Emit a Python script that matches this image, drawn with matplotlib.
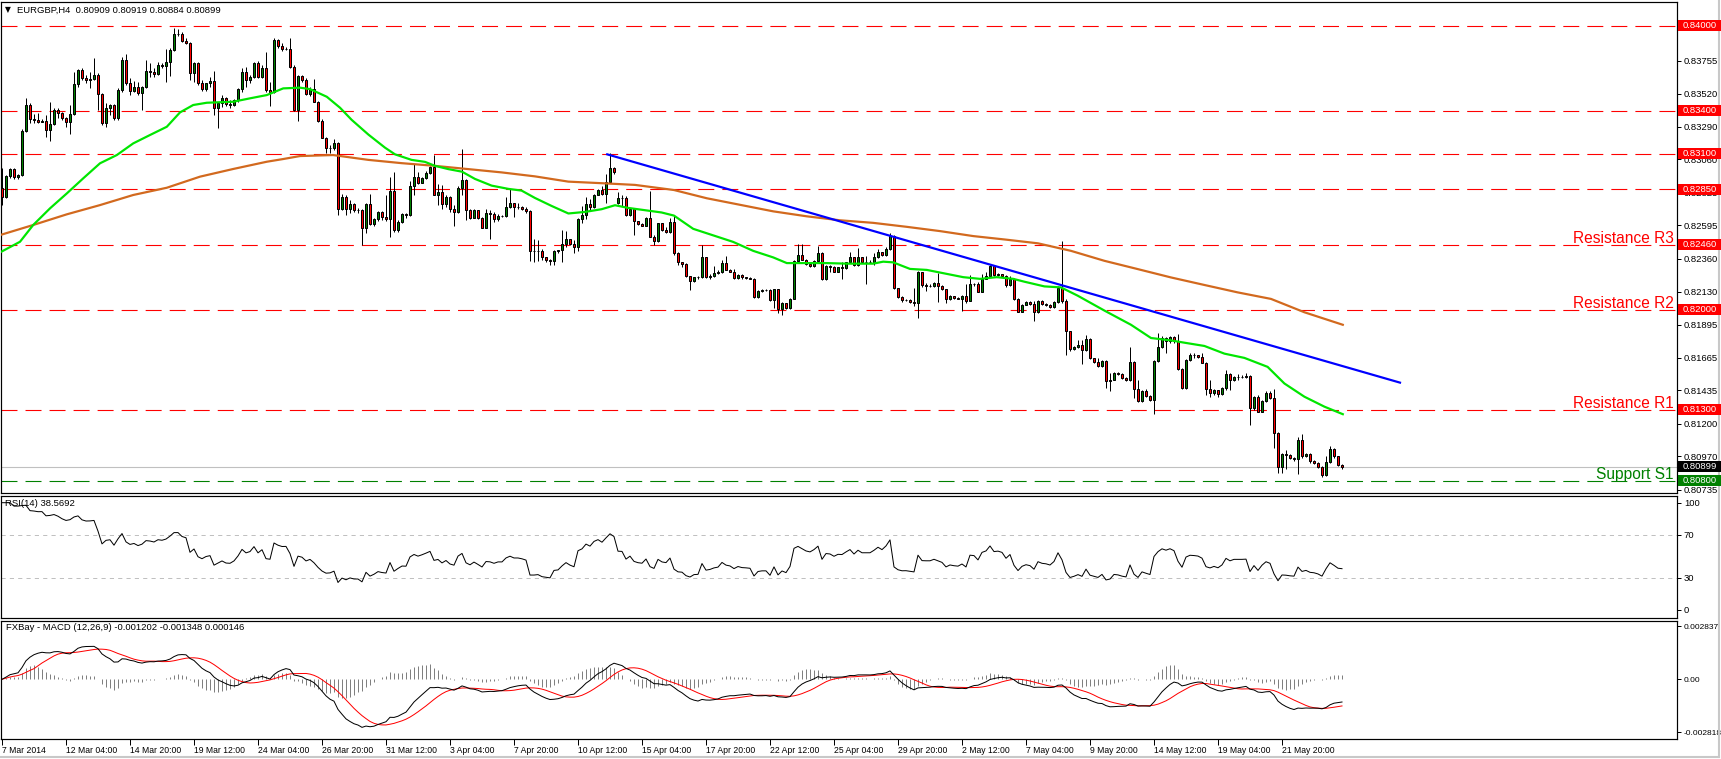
import numpy as np
import pandas as pd
import matplotlib
matplotlib.use("Agg")
import matplotlib.pyplot as plt
import matplotlib.transforms as mtransforms
from matplotlib.lines import Line2D
from matplotlib.patches import Rectangle

plt.rcParams['font.family'] = ['Liberation Sans', 'DejaVu Sans']
plt.rcParams['lines.scale_dashes'] = False

# EURGBP H4, prices in pips above 0.80000 (e.g. 312.0 -> 0.83120)
first_open = 285.6
gap_opens = {154: 275.5}
close_pips = [
    279.7, 294.2, 299.2, 293.3, 294.9, 325.9, 344.2, 334.3, 333.6, 332.5,
    333.0, 326.6, 330.8, 340.7, 338.3, 334.8, 332.5, 337.6, 358.7, 368.8,
    363.4, 361.8, 362.5, 365.3, 351.7, 331.3, 342.3, 344.2, 334.8, 354.7,
    375.8, 359.4, 354.0, 357.1, 352.9, 357.1, 368.1, 367.4, 365.8, 372.3,
    371.5, 374.7, 382.9, 393.9, 394.0, 389.2, 387.6, 366.5, 373.5, 359.4,
    355.4, 359.4, 361.0, 341.8, 345.4, 348.9, 344.7, 344.2, 347.7, 355.4,
    367.2, 361.8, 364.1, 373.5, 364.1, 370.0, 354.7, 353.6, 389.9, 385.9,
    383.6, 383.8, 371.2, 340.7, 364.6, 361.8, 351.9, 355.4, 346.5, 333.2,
    321.2, 313.7, 314.2, 317.2, 270.8, 279.4, 271.3, 274.8, 270.2, 270.0,
    257.9, 274.8, 260.2, 263.7, 268.6, 265.6, 264.0, 283.4, 256.3, 262.1,
    267.2, 266.7, 287.1, 293.3, 289.4, 292.6, 296.3, 300.3, 281.0, 282.9,
    274.8, 279.4, 271.3, 268.6, 285.7, 291.5, 270.2, 264.9, 270.2, 264.4,
    257.9, 267.9, 267.2, 264.0, 266.3, 266.3, 272.5, 275.3, 272.5, 272.5,
    271.3, 269.5, 241.2, 241.2, 241.7, 237.0, 235.5, 234.3, 241.7, 242.2,
    246.3, 249.8, 246.3, 244.0, 263.7, 266.7, 274.8, 272.5, 281.0, 284.5,
    281.8, 290.3, 299.6, 296.8, 278.8, 278.5, 266.7, 271.3, 262.5, 260.2,
    259.3, 264.9, 251.7, 248.2, 260.9, 256.3, 255.1, 261.6, 240.1, 233.5,
    232.6, 223.8, 220.1, 223.0, 223.3, 237.0, 223.0, 224.0, 226.0, 227.0,
    233.0, 228.4, 227.0, 222.4, 224.7, 223.0, 222.6, 222.0, 209.2, 213.4,
    214.0, 214.0, 206.9, 214.5, 200.6, 204.6, 201.6, 208.0, 234.7, 238.6,
    235.4, 232.3, 231.0, 234.7, 240.4, 221.5, 231.2, 230.5, 227.0, 230.0,
    229.7, 233.5, 237.0, 231.6, 237.0, 234.0, 234.0, 234.0, 237.0, 240.8,
    238.6, 243.2, 252.0, 215.4, 209.2, 206.9, 207.0, 205.7, 204.6, 226.6,
    217.3, 217.0, 217.0, 219.0, 216.8, 214.5, 207.6, 209.7, 208.6, 208.0,
    210.0, 206.2, 218.5, 218.0, 213.0, 221.9, 223.8, 230.7, 224.7, 225.3,
    224.0, 217.6, 221.8, 207.8, 198.9, 203.6, 205.4, 204.0, 198.5, 206.6,
    204.3, 203.6, 202.0, 205.4, 215.2, 206.6, 184.9, 172.3, 173.7, 175.6,
    171.6, 179.8, 166.3, 163.5, 160.7, 164.0, 150.0, 151.0, 156.0, 155.0,
    152.3, 150.7, 163.5, 144.4, 136.0, 143.0, 139.7, 136.7, 164.0, 174.0,
    180.3, 178.0, 181.0, 178.0, 158.8, 144.8, 164.6, 168.6, 168.0, 167.0,
    163.0, 144.4, 141.3, 143.7, 140.6, 144.8, 155.3, 150.7, 153.0, 153.0,
    153.0, 153.3, 130.9, 139.0, 128.5, 136.0, 141.3, 138.3, 113.4, 89.4,
    98.7, 98.0, 96.0, 95.0, 108.7, 97.1, 98.7, 93.6, 92.4, 89.4,
    83.7, 93.4, 102.4, 97.1, 90.9, 89.9,
]
high_pips = [
    299.6, 295.0, 299.6, 299.8, 296.0, 327.0, 349.4, 345.4, 337.6, 338.3,
    334.5, 337.2, 346.1, 342.3, 342.3, 339.5, 336.0, 344.2, 367.6, 369.5,
    370.0, 365.3, 367.6, 377.0, 366.5, 352.4, 345.4, 344.7, 344.7, 356.0,
    378.2, 379.8, 363.4, 361.0, 360.6, 357.5, 375.8, 373.5, 370.0, 374.7,
    373.5, 383.6, 384.1, 398.6, 397.7, 395.8, 391.1, 388.3, 374.7, 374.7,
    361.8, 359.8, 364.1, 368.3, 346.1, 351.2, 349.5, 347.7, 348.5, 356.0,
    370.0, 371.2, 365.3, 374.7, 375.3, 372.3, 381.7, 360.6, 391.1, 390.6,
    387.6, 384.7, 391.6, 372.3, 365.3, 365.3, 362.9, 357.1, 362.5, 347.0,
    334.3, 321.9, 316.1, 320.3, 318.4, 281.8, 280.6, 277.1, 275.5, 271.5,
    271.0, 275.3, 281.8, 264.5, 269.5, 269.5, 281.0, 293.3, 297.3, 263.0,
    268.0, 268.5, 291.0, 302.6, 296.8, 293.5, 297.9, 301.4, 308.8, 288.7,
    288.0, 280.6, 280.0, 273.7, 287.5, 313.5, 292.2, 271.0, 271.0, 270.6,
    265.6, 271.3, 270.2, 268.6, 267.2, 267.0, 279.4, 285.2, 275.5, 275.3,
    273.0, 272.5, 270.2, 250.0, 249.3, 243.2, 237.5, 235.9, 242.4, 242.5,
    256.3, 255.6, 250.2, 249.3, 264.4, 273.2, 279.4, 278.2, 281.8, 285.2,
    287.5, 295.6, 310.2, 300.3, 283.0, 280.6, 280.0, 272.0, 271.3, 262.6,
    261.0, 265.4, 284.0, 252.9, 261.5, 261.0, 258.6, 264.9, 266.7, 240.5,
    234.0, 233.0, 224.2, 223.5, 224.0, 245.5, 237.5, 225.5, 231.0, 228.0,
    235.3, 238.0, 229.0, 229.0, 225.5, 225.2, 223.5, 223.0, 222.6, 214.0,
    215.1, 215.0, 214.8, 215.1, 214.8, 205.5, 205.2, 208.5, 235.5, 246.2,
    246.2, 236.0, 232.5, 235.3, 245.0, 240.8, 231.8, 231.6, 231.0, 230.5,
    233.5, 234.0, 240.5, 237.5, 243.3, 237.5, 238.0, 235.0, 240.4, 242.6,
    241.0, 244.6, 254.3, 252.5, 215.8, 209.5, 208.0, 207.5, 215.4, 227.7,
    227.0, 218.8, 218.0, 219.5, 226.0, 217.5, 215.0, 210.2, 210.0, 209.0,
    210.5, 218.5, 224.8, 219.0, 219.5, 225.3, 226.6, 231.5, 231.0, 226.0,
    225.5, 224.5, 224.0, 222.3, 208.2, 204.3, 206.6, 206.0, 206.6, 207.0,
    207.0, 205.0, 204.0, 206.0, 217.1, 248.6, 207.8, 185.5, 174.5, 178.6,
    178.6, 182.6, 180.3, 166.5, 166.5, 164.5, 164.7, 155.5, 156.5, 156.5,
    155.5, 153.0, 174.2, 164.0, 151.0, 143.5, 144.4, 140.5, 164.7, 184.0,
    181.7, 181.0, 182.0, 181.7, 183.4, 159.3, 165.5, 169.5, 169.5, 168.6,
    170.0, 163.5, 150.5, 144.5, 143.7, 145.5, 157.6, 156.0, 153.8, 154.8,
    154.0, 155.6, 154.0, 139.5, 140.2, 136.5, 143.0, 143.0, 144.6, 114.0,
    99.5, 101.7, 98.5, 96.5, 111.0, 112.5, 99.2, 99.5, 94.5, 93.0,
    90.0, 97.1, 104.0, 103.0, 97.5, 91.9,
]
low_pips = [
    273.8, 278.5, 292.6, 292.0, 292.5, 294.0, 325.0, 331.3, 331.3, 331.3,
    332.0, 321.9, 319.1, 330.0, 334.8, 333.6, 328.9, 323.5, 337.0, 357.0,
    361.8, 359.4, 355.9, 362.0, 340.7, 330.1, 328.9, 337.2, 333.6, 334.0,
    353.6, 358.3, 351.2, 353.6, 351.2, 340.7, 355.9, 364.1, 364.1, 365.3,
    370.0, 360.6, 364.6, 382.0, 392.9, 388.7, 386.9, 361.8, 360.6, 358.3,
    354.0, 354.0, 357.1, 337.2, 327.8, 343.0, 343.5, 342.3, 343.5, 346.5,
    353.6, 357.1, 359.4, 363.4, 363.0, 363.0, 353.6, 343.7, 352.4, 384.5,
    382.2, 383.0, 370.0, 340.0, 332.9, 360.6, 351.2, 350.6, 346.0, 332.5,
    320.7, 310.2, 310.2, 312.5, 266.7, 270.0, 266.7, 268.2, 269.0, 268.5,
    245.9, 254.0, 259.7, 259.0, 262.5, 263.3, 262.6, 251.7, 255.2, 255.0,
    261.5, 264.4, 266.0, 280.6, 288.7, 289.0, 292.2, 295.6, 280.6, 273.7,
    271.3, 272.5, 269.0, 259.3, 268.0, 280.6, 263.2, 264.0, 264.5, 263.8,
    257.4, 257.4, 250.0, 262.2, 262.6, 265.5, 265.6, 272.0, 265.6, 271.0,
    270.2, 267.9, 234.3, 233.8, 234.3, 235.5, 233.8, 231.5, 231.5, 240.0,
    233.8, 244.6, 245.8, 239.8, 241.6, 261.4, 264.2, 270.2, 271.5, 280.6,
    280.6, 275.0, 289.5, 295.5, 274.8, 273.2, 266.0, 266.0, 252.8, 259.5,
    258.8, 259.0, 251.0, 245.9, 248.0, 255.5, 254.0, 254.5, 238.9, 231.8,
    230.5, 223.0, 213.8, 219.5, 222.0, 222.8, 222.5, 222.0, 223.5, 225.5,
    226.0, 228.0, 226.5, 221.5, 222.0, 222.0, 221.8, 221.5, 208.5, 208.7,
    212.5, 213.2, 206.0, 201.6, 197.6, 196.8, 201.0, 201.0, 207.5, 234.0,
    235.0, 231.5, 230.5, 230.5, 234.0, 221.0, 221.0, 227.0, 226.5, 226.5,
    222.0, 229.0, 233.0, 231.0, 231.0, 233.0, 218.5, 233.0, 231.9, 236.5,
    238.0, 238.0, 242.5, 215.0, 208.5, 205.7, 206.0, 205.0, 202.9, 194.7,
    216.5, 213.6, 216.0, 216.5, 205.9, 214.0, 204.6, 207.0, 208.0, 207.5,
    199.0, 204.6, 206.0, 217.0, 212.5, 212.5, 221.5, 223.0, 224.0, 224.0,
    223.5, 216.5, 217.0, 207.0, 198.5, 198.5, 203.3, 203.5, 192.6, 198.0,
    203.8, 202.5, 201.5, 201.5, 205.0, 205.0, 168.1, 170.9, 172.0, 173.0,
    162.3, 171.0, 165.8, 162.8, 160.0, 160.0, 144.8, 142.9, 150.5, 154.0,
    151.8, 150.0, 150.0, 137.9, 135.1, 135.5, 139.0, 136.0, 126.7, 163.5,
    173.5, 170.0, 177.0, 177.0, 158.0, 144.4, 144.4, 164.0, 166.5, 166.3,
    162.5, 140.2, 138.9, 140.5, 138.9, 140.0, 144.0, 143.7, 150.0, 150.5,
    152.0, 152.5, 119.2, 130.0, 128.0, 128.0, 135.5, 137.5, 102.9, 85.4,
    85.4, 88.0, 95.0, 94.0, 84.7, 96.0, 96.5, 92.5, 91.5, 88.5,
    82.3, 83.0, 92.5, 96.0, 90.0, 88.4,
]

# moving averages (bar index, pips)
green_ma_bar = [-0.5, 4.5, 7.8, 12, 16.2, 20.3, 24.5, 28.7, 32.8, 37, 41.2, 44.5, 47.8, 51.2,
                57.8, 62, 66.2, 70.3, 74.5, 77, 81.2, 84.5, 87.4, 91.6, 95.75, 98.25, 102.4,
                105.75, 108.25, 111.6, 115, 118.25, 122.4, 126.6, 129.9, 133.25, 137.4, 141.6,
                145.75, 149.9, 153.25, 156.6, 160.75, 164.9, 168, 172.8, 177.8, 182.8, 187.8,
                192.8, 196.2, 201.2, 206.2, 211.2, 217.8, 220.3, 222.8, 227, 231.2, 236.2,
                240.3, 244.5, 248.7, 252.8, 255.6, 260.6, 264.75, 268.9, 275.6, 282.25,
                287.25, 292.25, 295.6, 300.6, 305.6, 310.6, 316.4, 320.6, 325.6, 330.6, 335.2]
green_ma_pips = [240.5, 248, 259.8, 271.5, 282, 292.6, 303.2, 309, 317.2, 323.1, 328.9, 339,
                 344.2, 345.8, 346.5, 348.9, 351.2, 355.9, 356.4, 355.4, 350, 342.3, 333.8,
                 323.4, 314.2, 309.5, 305.6, 304.2, 301.4, 299.1, 297.3, 292.2, 287.5, 285.2,
                 284, 278.8, 273.2, 267.9, 269, 270.9, 273.7, 271.8, 270.2, 268.6, 266.4,
                 257.1, 252.5, 247.9, 241.6, 237, 233, 233, 233, 232.6, 232.6, 234, 233.5,
                 228.9, 228.2, 225.4, 223.1, 221.9, 223.1, 221.9, 219.9, 216.6, 215.9, 210.1,
                 199.6, 189.6, 180.3, 178.6, 177, 174.7, 169.3, 166.3, 160, 148.3, 139, 132,
                 126.7]
orange_ma_bar = [-0.5, 7.8, 16.2, 24.5, 32.8, 41.2, 49.5, 57.8, 66.2, 70.3, 74.5, 82.8, 91.6,
                 99.9, 108.25, 116.6, 124.9, 133.25, 141.6, 149.9, 158.25, 168, 176.2, 184.5,
                 192.8, 201.2, 209.5, 217.8, 226.2, 234.5, 242.8, 251, 259, 267.25, 275.6,
                 283.9, 292.25, 300.6, 308.9, 317.25, 325.6, 335.2]
orange_ma_pips = [252.7, 259.8, 267.3, 273.8, 280.9, 286, 293.8, 299.2, 304.3, 306.2, 308.3,
                  309, 305.6, 303.3, 301.4, 299.1, 296.8, 294, 290.3, 289.2, 288, 284.4, 278.6,
                  274, 269.4, 265.9, 263.1, 261.3, 258.5, 255.5, 252, 249.5, 246.9, 241.6,
                  234.6, 228.8, 222.9, 217.6, 212.4, 207.8, 198.4, 189.6]
trend_bar = [151.3, 349.5]
trend_pips = [309.5, 148.9]

red_levels = [0.84000, 0.83400, 0.83100, 0.82850, 0.82460, 0.82000, 0.81300]
support_level = 0.80800
bid_price = 0.80899
level_names = [(0.82460, 'Resistance R3'), (0.82000, 'Resistance R2'), (0.81300, 'Resistance R1')]
price_ticks = [0.83755, 0.83520, 0.83290, 0.83060, 0.82825, 0.82595, 0.82360, 0.82130,
               0.81895, 0.81665, 0.81435, 0.81200, 0.80970, 0.80735]
date_labels = ['7 Mar 2014', '12 Mar 04:00', '14 Mar 20:00', '19 Mar 12:00', '24 Mar 04:00',
               '26 Mar 20:00', '31 Mar 12:00', '3 Apr 04:00', '7 Apr 20:00', '10 Apr 12:00',
               '15 Apr 04:00', '17 Apr 20:00', '22 Apr 12:00', '25 Apr 04:00', '29 Apr 20:00',
               '2 May 12:00', '7 May 04:00', '9 May 20:00', '14 May 12:00', '19 May 04:00',
               '21 May 20:00']


def to_price(p):
    return 0.8 + np.asarray(p, dtype=float) / 10000.0


closes = to_price(close_pips)
highs = to_price(high_pips)
lows = to_price(low_pips)
open_pips = [first_open] + close_pips[:-1]
for k, v in gap_opens.items():
    open_pips[k] = v
opens = to_price(open_pips)
highs = np.maximum(highs, np.maximum(opens, closes))
lows = np.minimum(lows, np.minimum(opens, closes))
bars = np.arange(len(closes))

# indicators
c = pd.Series(closes)
d = c.diff()
gain = d.clip(lower=0).ewm(alpha=1 / 14, adjust=False).mean()
loss = (-d.clip(upper=0)).ewm(alpha=1 / 14, adjust=False).mean()
rsi = 100 - 100 / (1 + gain / loss.replace(0, np.nan))
rsi = rsi.fillna(100)
macd_main = c.ewm(span=12, adjust=False).mean() - c.ewm(span=26, adjust=False).mean()
macd_sig = macd_main.rolling(9, min_periods=1).mean()
macd_hist = macd_main - macd_sig

W, H = 1721, 759
fig = plt.figure(figsize=(W / 100, H / 100), dpi=100)
px = 1 / 100 * 72  # one pixel in points

def fy(p):
    return 1 - p / H

ax = fig.add_axes([1 / W, fy(493), 1676 / W, 491 / H])
ax_rsi = fig.add_axes([1 / W, fy(618), 1676 / W, 122 / H])
ax_macd = fig.add_axes([1 / W, fy(739), 1676 / W, 118 / H])

xlim = (-0.25, 418.75)
for a in (ax, ax_rsi, ax_macd):
    a.set_xlim(*xlim)
    for s in a.spines.values():
        s.set_linewidth(1.2 * px)
        s.set_color('black')
    a.yaxis.tick_right()
    a.tick_params(axis='y', direction='out', length=3, width=px, labelsize=6.8, pad=2)
    a.set_xticks([])

# main chart
ax.set_ylim(0.807126, 0.841667)
for lv in red_levels:
    ax.axhline(lv, color='#ff0000', lw=px * 1.1, dashes=(11.5, 5.8), zorder=1)
ax.axhline(support_level, color='#008000', lw=px * 1.1, dashes=(11.5, 5.8), zorder=1)
ax.axhline(bid_price, color='#c0c0c0', lw=px * 1.1, zorder=1)

ax.vlines(bars, lows, highs, color='black', lw=px, zorder=3)
up = closes >= opens
body_lo = np.minimum(opens, closes)
body_h = np.abs(closes - opens)
ax.bar(bars[up], body_h[up], bottom=body_lo[up], width=0.62, color='#008000',
       edgecolor='black', linewidth=px, zorder=4)
ax.bar(bars[~up], body_h[~up], bottom=body_lo[~up], width=0.62, color='#ff0000',
       edgecolor='black', linewidth=px, zorder=4)

ax.plot(orange_ma_bar, to_price(orange_ma_pips), color='#d2691e', lw=2.2 * px, zorder=5)
ax.plot(green_ma_bar, to_price(green_ma_pips), color='#00e600', lw=2.2 * px, zorder=5)
ax.plot(trend_bar, to_price(trend_pips), color='#0000ff', lw=2.2 * px, zorder=6)

ax.set_yticks(price_ticks)
ax.set_yticklabels(['%.5f' % t for t in price_ticks])

txt_off = mtransforms.offset_copy(ax.get_yaxis_transform(), fig=fig, x=0, y=2, units='dots')
for lv, name in level_names:
    ax.text((1674 - 1) / 1676, lv, name, transform=txt_off, ha='right', va='baseline',
            color='#ff0000', fontsize=11.2, zorder=7)
ax.text((1674 - 1) / 1676, support_level, 'Support S1', transform=txt_off, ha='right',
        va='baseline', color='#008000', fontsize=11.2, zorder=7)

# coloured price boxes on the right scale
box_tr = mtransforms.blended_transform_factory(fig.transFigure, ax.transData)
box_h = 11 / 14215
boxes = [(lv, '#ff0000') for lv in red_levels] + [(bid_price, '#000000'), (support_level, '#008000')]
for lv, col in boxes:
    r = Rectangle((1678 / W, lv - box_h / 2), 43 / W, box_h, transform=box_tr,
                  facecolor=col, edgecolor='none', clip_on=False, zorder=10)
    fig.add_artist(r)
    fig.text(1683 / W, lv, '%.5f' % lv, transform=box_tr, color='white', fontsize=6.8,
             va='center', ha='left', zorder=11)

fig.text(5 / W, fy(10), '\u25bc', fontsize=5.5, va='center', ha='left', family='DejaVu Sans')
fig.text(17 / W, fy(10), 'EURGBP,H4  0.80909 0.80919 0.80884 0.80899', fontsize=6.8,
         va='center', ha='left')

# RSI
ax_rsi.set_ylim(-7.46, 106.24)
ax_rsi.axhline(70, color='#c0c0c0', lw=px, dashes=(3, 3))
ax_rsi.axhline(30, color='#c0c0c0', lw=px, dashes=(3, 3))
ax_rsi.plot(bars, rsi, color='black', lw=px)
ax_rsi.set_yticks([100, 70, 30, 0])
ax_rsi.set_yticklabels(['100', '70', '30', '0'])
fig.text(5 / W, fy(503), 'RSI(14) 38.5692', fontsize=6.8, va='center', ha='left')

# MACD
ax_macd.set_ylim(-0.003182, 0.003107)
ax_macd.vlines(bars, 0, macd_hist, color='#808080', lw=px)
ax_macd.plot(bars, macd_sig, color='#ff0000', lw=px)
ax_macd.plot(bars, macd_main, color='black', lw=px)
ax_macd.set_yticks([0.002837, 0.0, -0.002818])
ax_macd.set_yticklabels(['0.002837', '0.00', '-0.002818'])
ax_macd.tick_params(axis='y', labelsize=6.0, pad=1.5)
fig.text(6 / W, fy(628), 'FXBay - MACD (12,26,9) -0.001202 -0.001348 0.000146', fontsize=6.8,
         va='center', ha='left')

ax_macd.set_xticks(np.arange(len(date_labels)) * 16)
ax_macd.set_xticklabels(date_labels)
ax_macd.tick_params(axis='x', direction='out', length=4, width=px, labelsize=6.2, pad=1)
for lab in ax_macd.get_xticklabels():
    lab.set_horizontalalignment('left')

# window frame
fig.add_artist(Line2D([1718.5 / W] * 2, [fy(757), 1], color='#c8c8c8', lw=1.5))
fig.add_artist(Line2D([0, 1718.5 / W], [fy(756.5)] * 2, color='#c8c8c8', lw=1.5))

fig.savefig('out.png', dpi=100)
